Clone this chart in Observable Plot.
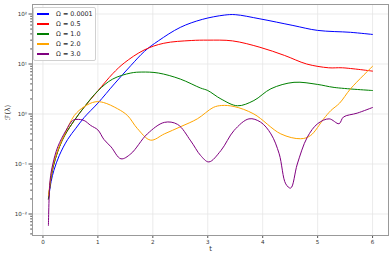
<!DOCTYPE html>
<html><head><meta charset="utf-8">
<script src="https://cdn.jsdelivr.net/npm/d3@7"></script>
<script src="https://cdn.jsdelivr.net/npm/@observablehq/plot@0.6"></script>
<style>
body{margin:0;background:#fff;font-family:"DejaVu Sans",sans-serif}
#wrap{position:relative;width:392px;height:258px;overflow:hidden}
#wrap svg{display:block}
#legend{position:absolute;left:33px;top:7px;width:61px;padding:1px 0 1px 0;border:1px solid #d0d0d0;border-radius:2px;background:rgba(255,255,255,0.85);font-size:6.4px;color:#222}
.item{height:10px;display:flex;align-items:center}
.sw{width:12px;height:1.5px;margin-left:3px;margin-right:7px}
</style></head><body><div id="wrap"><div id="legend"></div></div><script>
const seriesNames = ["Ω = 0.0001","Ω = 0.5","Ω = 1.0","Ω = 2.0","Ω = 3.0"];
const seriesColors = ["blue","red","green","orange","purple"];

const tBlue = [0.1,0.15,0.2,0.3,0.45,0.6,0.75,1.0,1.3,1.6,1.85,2.1,2.5,2.9,3.3,3.5,3.95,4.55,5.0,5.6,6.0];
const vBlue = [0.02,0.045,0.075,0.15,0.31,0.52,0.85,1.65,4.0,9.3,18,29,54,78,95,97,80,59,47,43,39];

const tRed = [0.1,0.15,0.2,0.3,0.4,0.57,0.75,1.0,1.27,1.48,1.84,2.2,2.7,3.0,3.45,3.95,4.4,4.8,5.2,5.45,6.0];
const vRed = [0.02,0.055,0.1,0.22,0.38,0.74,1.37,2.9,6.4,10.5,19,26,29.5,30,29,21.6,14.8,10,8.4,8.4,7.2];

const tGreen = [0.1,0.15,0.2,0.3,0.4,0.57,0.75,1.0,1.27,1.6,1.8,2.1,2.5,2.87,3.0,3.24,3.54,3.84,4.15,4.57,5.0,5.3,6.0];
const vGreen = [0.02,0.055,0.1,0.22,0.38,0.74,1.37,2.9,5.0,6.6,6.9,6.6,5.0,3.3,2.95,2.0,1.46,1.86,3.2,4.3,3.9,3.4,2.95];

const tOrange = [0.1,0.15,0.2,0.3,0.4,0.57,0.75,0.95,1.1,1.36,1.54,1.72,1.96,2.21,2.51,2.81,3.1,3.25,3.48,3.84,4.33,4.69,4.87,5.11,5.24,5.4,5.6,6.0];
const vOrange = [0.023,0.06,0.11,0.23,0.4,0.93,1.4,1.75,1.7,1.27,0.93,0.51,0.30,0.40,0.56,0.8,1.35,1.48,1.41,1.0,0.40,0.32,0.37,0.8,1.17,1.65,3.2,9.0];

const tPurple = [0.1,0.13,0.18,0.27,0.42,0.54,0.62,0.75,0.87,1.0,1.11,1.24,1.42,1.6,1.9,2.21,2.45,2.69,2.87,3.02,3.24,3.48,3.75,3.96,4.15,4.3,4.42,4.51,4.63,4.81,5.0,5.21,5.39,5.47,5.72,6.0];
const vPurple = [0.0059,0.047,0.1,0.22,0.47,0.74,0.78,0.74,0.59,0.48,0.31,0.22,0.127,0.16,0.40,0.68,0.62,0.29,0.148,0.11,0.186,0.47,0.8,0.69,0.40,0.16,0.040,0.033,0.10,0.34,0.64,0.80,0.64,0.87,1.04,1.35];

const xTicks = [0,1,2,3,4,5,6];
const yTicks = [0.01,0.1,1,10,100];
const yTickLabels = ["10⁻²","10⁻¹","10⁰","10¹","10²"];

const allT = [tBlue,tRed,tGreen,tOrange,tPurple];
const allV = [vBlue,vRed,vGreen,vOrange,vPurple];
const data = [];
allT.forEach((ts,i)=>ts.forEach((t,j)=>data.push({s:seriesNames[i], c:seriesColors[i], t, v:allV[i][j]})));

const yMinor = [];
for (let k=-3;k<=2;k++) for (let m=2;m<=9;m++){const v=m*10**k; if(v>10**-2.43 && v<10**2.19) yMinor.push(v);}

const chart = Plot.plot({
  width:392, height:258,
  marginLeft:32, marginRight:4, marginTop:4, marginBottom:23,
  style:{fontFamily:"DejaVu Sans, sans-serif", fontSize:"5.6px", color:"#333", background:"#fff", overflow:"visible"},
  x:{domain:[-0.19,6.29]},
  y:{type:"log", domain:[10**-2.43, 10**2.19]},
  marks:[
    Plot.gridX(xTicks,{stroke:"#e6e6e6", strokeOpacity:1, strokeWidth:0.8}),
    Plot.gridY(yTicks,{stroke:"#e6e6e6", strokeOpacity:1, strokeWidth:0.8}),
    Plot.axisX(xTicks,{tickSize:3, tickPadding:2, tickFormat:d=>String(d), label:null, stroke:"#555"}),
    Plot.axisY(yMinor,{tickSize:1.8, text:null, label:null, stroke:"#555"}),
    Plot.axisY(yTicks,{tickSize:3.5, tickPadding:2, tickFormat:(d)=>yTickLabels[yTicks.indexOf(d)], label:null, stroke:"#555"}),
    Plot.line(data,{x:"t", y:"v", z:"s", stroke:"c", curve:"catmull-rom", strokeWidth:1}),
    Plot.frame({stroke:"#999", strokeWidth:1}),
    Plot.text(["t"],{frameAnchor:"bottom", dy:15, fontSize:7, fill:"#333"}),
    Plot.text(["ℱ(λ)"],{frameAnchor:"left", dx:-25, rotate:-90, fontSize:7, fill:"#333"})
  ]
});
const wrap = document.getElementById("wrap");
wrap.insertBefore(chart, wrap.firstChild);
const leg = document.getElementById("legend");
seriesNames.forEach((n,i)=>{
  const d=document.createElement("div"); d.className="item";
  d.innerHTML=`<span class="sw" style="background:${seriesColors[i]}"></span><span>${n}</span>`;
  leg.appendChild(d);
});
</script></body></html>
